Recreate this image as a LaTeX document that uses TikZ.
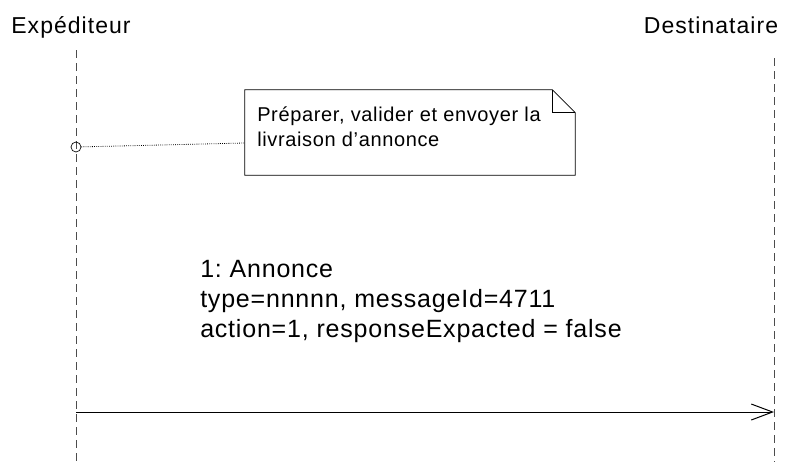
\documentclass[tikz,border=0pt]{standalone}
\usepackage{fontspec}
\setmainfont{Liberation Sans}
\newfontfamily\actorfont[LetterSpace=4.5]{Liberation Sans}
\newfontfamily\bodyfont[LetterSpace=3.2]{Liberation Sans}
\frenchspacing
\usetikzlibrary{arrows.meta}

\begin{document}
\begin{tikzpicture}[x=0.75pt, y=-0.75pt,
    lifeline/.style={draw=black!70, line width=0.75pt, dash pattern=on 6pt off 3.75pt},
    actor/.style={font=\actorfont\fontsize{17.25}{20}\selectfont, inner sep=0pt, anchor=base},
    notetext/.style={font=\bodyfont\fontsize{15}{18.75}\selectfont, align=left, inner sep=0pt, anchor=north west},
    msgtext/.style={font=\bodyfont\fontsize{18.75}{22.5}\selectfont, align=left, inner sep=0pt, anchor=north west},
    notebox/.style={minimum width=247.5pt, minimum height=63.75pt, inner sep=0pt},
    hook/.style={circle, draw, fill=none, line width=0.5pt, minimum size=7.5pt, inner sep=0pt},
    message/.style={line width=0.75pt, -{Straight Barb[length=16pt, width=12pt, line width=0.75pt]}}
]
    % Picture size
    \useasboundingbox (0,0) rectangle (785,465);
    % Actors
    \node[actor] (sender) at (71,33) {Expéditeur};
    \node[actor] (receiver) at (711,33) {Destinataire};
    % Lifelines
    \coordinate (sndtop) at (76,50);
    \coordinate (sndbot) at (76,462);
    \coordinate (rcvtop) at (774,58);
    \coordinate (rcvbot) at (774,462);
    \draw[lifeline] (sndtop) -- (sndbot);
    \draw[lifeline] (rcvtop) -- (rcvbot);
    % Note with folded corner
    \node[notebox] (note) at (410,132.5) {};
    \def\F{17.25pt}
    \draw[line width=0.5pt] (note.north west) -- ([xshift=-\F]note.north east)
        -- ([yshift=-\F]note.north east) -- (note.south east)
        -- (note.south west) -- cycle;
    \draw[line width=0.5pt] ([xshift=-\F]note.north east) -- ([xshift=-\F, yshift=-\F]note.north east)
        -- ([yshift=-\F]note.north east);
    \node[notetext] (notetxt) at (257,106.5) {Préparer, valider et envoyer la\\livraison d’annonce};
    % Note attachment
    \node[hook] (hook) at (76,147) {};
    \coordinate (notein) at (245,143);
    \draw[densely dotted, line width=0.6pt] (hook) -- (notein);
    % Message
    \node[msgtext] (msglabel) at (200,260) {1: Annonce\\type=nnnnn, messageId=4711\\action=1, responseExpacted = false};
    \coordinate (sndmsg) at (76,412);
    \coordinate (rcvmsg) at (774,412);
    \draw[message] (sndmsg) -- (rcvmsg);
\end{tikzpicture}
\end{document}
